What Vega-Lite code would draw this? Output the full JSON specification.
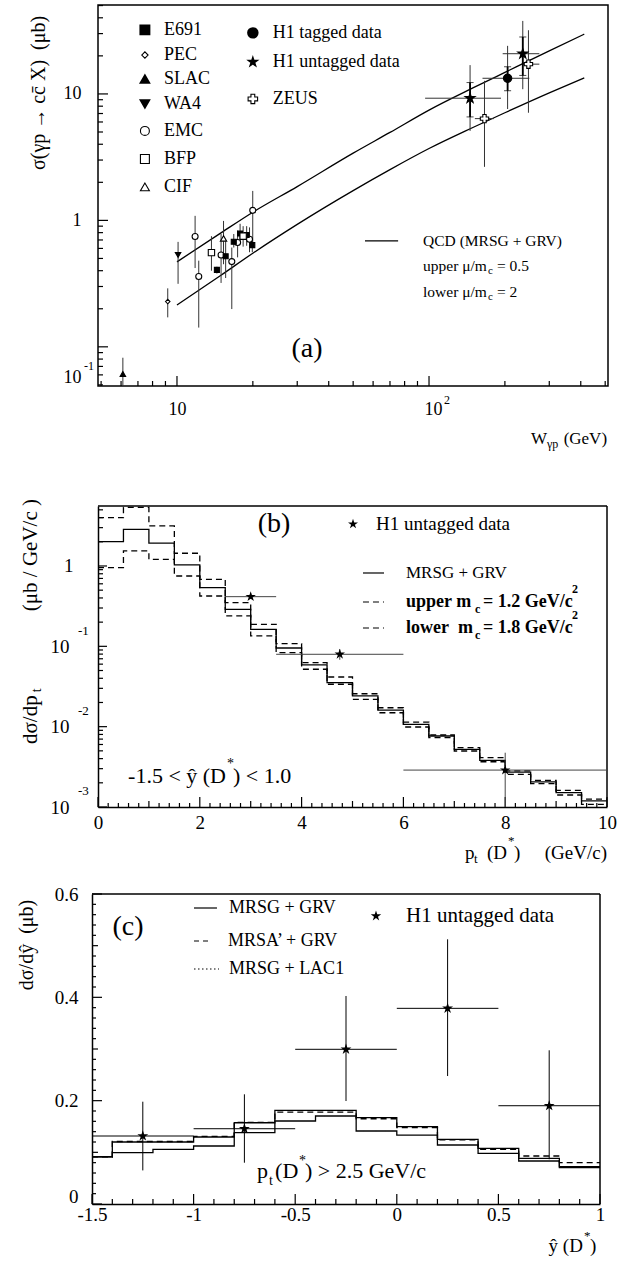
{
"$schema":"https://vega.github.io/schema/vega-lite/v6.json",
"padding":{"left":16,"top":4,"right":4,"bottom":4},
"bounds":"flush",
"spacing":87,
"config":{
 "font":"Liberation Serif",
 "view":{"stroke":"black","strokeWidth":1.5},
 "axis":{"labelFont":"Liberation Serif","labelColor":"black","domainColor":"black","domainWidth":1.5,"grid":false,"labelOverlap":false,"labelFlush":false,"labelBound":false},
 "text":{"font":"Liberation Serif","color":"black"}
},
"datasets":{
 "qcd":[
  {"set":"upper","W":10,"s":0.47},{"set":"upper","W":15,"s":0.80},{"set":"upper","W":20,"s":1.16},{"set":"upper","W":30,"s":1.85},{"set":"upper","W":50,"s":3.4},{"set":"upper","W":70,"s":4.96},{"set":"upper","W":100,"s":7.45},{"set":"upper","W":150,"s":11.2},{"set":"upper","W":200,"s":14.8},{"set":"upper","W":300,"s":21.9},{"set":"upper","W":413,"s":29.7},
  {"set":"lower","W":10,"s":0.214},{"set":"lower","W":15,"s":0.37},{"set":"lower","W":20,"s":0.55},{"set":"lower","W":30,"s":0.93},{"set":"lower","W":50,"s":1.72},{"set":"lower","W":70,"s":2.52},{"set":"lower","W":100,"s":3.7},{"set":"lower","W":150,"s":5.45},{"set":"lower","W":200,"s":7.1},{"set":"lower","W":300,"s":10.2},{"set":"lower","W":413,"s":13.4}
 ],
 "a_pts":[
  {"exp":"SLAC","W":6.1,"s":0.061,"lo":0.049,"hi":0.082},
  {"exp":"PEC","W":9.19,"s":0.228,"lo":0.171,"hi":0.29},
  {"exp":"WA4","W":10.1,"s":0.533,"lo":0.315,"hi":0.676},
  {"exp":"EMC","W":11.8,"s":0.745,"lo":0.42,"hi":1.086},
  {"exp":"EMC","W":12.2,"s":0.36,"lo":0.142,"hi":0.48},
  {"exp":"EMC","W":14.96,"s":0.533,"lo":0.32,"hi":0.78},
  {"exp":"EMC","W":16.5,"s":0.472,"lo":0.199,"hi":0.61},
  {"exp":"EMC","W":17.4,"s":0.668,"lo":0.51,"hi":0.83},
  {"exp":"EMC","W":19.4,"s":0.71,"lo":0.56,"hi":0.88},
  {"exp":"EMC","W":19.98,"s":1.2,"lo":0.61,"hi":1.71},
  {"exp":"E691","W":14.4,"s":0.406,"lo":0.38,"hi":0.43},
  {"exp":"E691","W":15.6,"s":0.52,"lo":0.35,"hi":0.69},
  {"exp":"E691","W":16.8,"s":0.678,"lo":0.61,"hi":0.78},
  {"exp":"E691","W":17.8,"s":0.787,"lo":0.65,"hi":0.94},
  {"exp":"E691","W":18.9,"s":0.766,"lo":0.63,"hi":0.9},
  {"exp":"E691","W":19.9,"s":0.637,"lo":0.56,"hi":0.73},
  {"exp":"BFP","W":13.7,"s":0.556,"lo":0.4,"hi":0.75},
  {"exp":"BFP","W":18.3,"s":0.75,"lo":0.62,"hi":0.9},
  {"exp":"CIF","W":15.3,"s":0.72,"lo":0.45,"hi":0.99},
  {"exp":"H1 untagged","W":145.5,"s":9.25,"lo":5.1,"hi":16.9,"slo":6.58,"shi":12.3,"Wlo":96.5,"Whi":193},
  {"exp":"H1 untagged","W":235.5,"s":20.8,"lo":10.9,"hi":37.8,"slo":14.0,"shi":28.2,"Wlo":196,"Whi":274},
  {"exp":"H1 tagged","W":205,"s":13.3,"lo":7.6,"hi":24,"slo":10.6,"shi":16.4,"Wlo":163,"Whi":250},
  {"exp":"ZEUS","W":166,"s":6.38,"lo":2.65,"hi":12.7,"Wlo":152,"Whi":181},
  {"exp":"ZEUS","W":248,"s":17.2,"lo":7.1,"hi":31.9,"Wlo":233,"Whi":274}
 ],
 "a_xt":[{"v":5},{"v":6},{"v":7},{"v":8},{"v":9},{"v":10},{"v":20},{"v":30},{"v":40},{"v":50},{"v":60},{"v":70},{"v":80},{"v":90},{"v":100},{"v":200},{"v":300},{"v":400},{"v":500}],
 "a_yt":[{"v":0.05},{"v":0.06},{"v":0.07},{"v":0.08},{"v":0.09},{"v":0.1},{"v":0.2},{"v":0.3},{"v":0.4},{"v":0.5},{"v":0.6},{"v":0.7},{"v":0.8},{"v":0.9},{"v":1},{"v":2},{"v":3},{"v":4},{"v":5},{"v":6},{"v":7},{"v":8},{"v":9},{"v":10},{"v":20},{"v":30},{"v":40},{"v":50}],
 "b_xt":[{"v":0},{"v":0.2},{"v":0.4},{"v":0.6},{"v":0.8},{"v":1},{"v":1.2},{"v":1.4},{"v":1.6},{"v":1.8},{"v":2},{"v":2.2},{"v":2.4},{"v":2.6},{"v":2.8},{"v":3},{"v":3.2},{"v":3.4},{"v":3.6},{"v":3.8},{"v":4},{"v":4.2},{"v":4.4},{"v":4.6},{"v":4.8},{"v":5},{"v":5.2},{"v":5.4},{"v":5.6},{"v":5.8},{"v":6},{"v":6.2},{"v":6.4},{"v":6.6},{"v":6.8},{"v":7},{"v":7.2},{"v":7.4},{"v":7.6},{"v":7.8},{"v":8},{"v":8.2},{"v":8.4},{"v":8.6},{"v":8.8},{"v":9},{"v":9.2},{"v":9.4},{"v":9.6},{"v":9.8},{"v":10}],
 "b_yt":[{"v":0.001},{"v":0.002},{"v":0.003},{"v":0.004},{"v":0.005},{"v":0.006},{"v":0.007},{"v":0.008},{"v":0.009},{"v":0.01},{"v":0.02},{"v":0.03},{"v":0.04},{"v":0.05},{"v":0.06},{"v":0.07},{"v":0.08},{"v":0.09},{"v":0.1},{"v":0.2},{"v":0.3},{"v":0.4},{"v":0.5},{"v":0.6},{"v":0.7},{"v":0.8},{"v":0.9},{"v":1},{"v":2},{"v":3},{"v":4},{"v":5}],
 "c_xt":[{"v":-1.5},{"v":-1.4},{"v":-1.3},{"v":-1.2},{"v":-1.1},{"v":-1},{"v":-0.9},{"v":-0.8},{"v":-0.7},{"v":-0.6},{"v":-0.5},{"v":-0.4},{"v":-0.3},{"v":-0.2},{"v":-0.1},{"v":0},{"v":0.1},{"v":0.2},{"v":0.3},{"v":0.4},{"v":0.5},{"v":0.6},{"v":0.7},{"v":0.8},{"v":0.9},{"v":1}],
 "c_yt":[{"v":0},{"v":0.02},{"v":0.04},{"v":0.06},{"v":0.08},{"v":0.1},{"v":0.12},{"v":0.14},{"v":0.16},{"v":0.18},{"v":0.2},{"v":0.22},{"v":0.24},{"v":0.26},{"v":0.28},{"v":0.3},{"v":0.32},{"v":0.34},{"v":0.36},{"v":0.38},{"v":0.4},{"v":0.42},{"v":0.44},{"v":0.46},{"v":0.48},{"v":0.5},{"v":0.52},{"v":0.54},{"v":0.56},{"v":0.58},{"v":0.6}],
 "b_hist":[
  {"pt":0,"solid":2.01,"upper":3.99,"lower":0.953},
  {"pt":0.5,"solid":2.86,"upper":5.35,"lower":1.54},
  {"pt":1,"solid":1.92,"upper":3.15,"lower":1.21},
  {"pt":1.5,"solid":1.03,"upper":1.44,"lower":0.751},
  {"pt":2,"solid":0.537,"upper":0.683,"lower":0.423},
  {"pt":2.5,"solid":0.289,"upper":0.349,"lower":0.239},
  {"pt":3,"solid":0.163,"upper":0.188,"lower":0.135},
  {"pt":3.5,"solid":0.0953,"upper":0.108,"lower":0.0833},
  {"pt":4,"solid":0.0586,"upper":0.0626,"lower":0.0518},
  {"pt":4.5,"solid":0.0353,"upper":0.0415,"lower":0.0337},
  {"pt":5,"solid":0.0241,"upper":0.0257,"lower":0.0219},
  {"pt":5.5,"solid":0.0161,"upper":0.0172,"lower":0.0149},
  {"pt":6,"solid":0.0107,"upper":0.0114,"lower":0.0099},
  {"pt":6.5,"solid":0.00765,"upper":0.00787,"lower":0.0073},
  {"pt":7,"solid":0.00522,"upper":0.00547,"lower":0.00498},
  {"pt":7.5,"solid":0.00381,"upper":0.00411,"lower":0.00366},
  {"pt":8,"solid":0.00272,"upper":0.00281,"lower":0.00255},
  {"pt":8.5,"solid":0.00205,"upper":0.00215,"lower":0.00195},
  {"pt":9,"solid":0.00151,"upper":0.00161,"lower":0.00141},
  {"pt":9.5,"solid":0.00119,"upper":0.00125,"lower":0.00108},
  {"pt":10,"solid":0.00119,"upper":0.00125,"lower":0.00108}
 ],
 "b_pts":[
  {"pt":3.0,"v":0.415,"plo":2.5,"phi":3.5,"vlo":0.39,"vhi":0.44},
  {"pt":4.75,"v":0.0796,"plo":3.5,"phi":6.0,"vlo":0.068,"vhi":0.092},
  {"pt":8.0,"v":0.00288,"plo":6.0,"phi":10.0,"vlo":0.001,"vhi":0.00474}
 ],
 "c_hist":[
  {"y":-1.5,"solid":0.0915,"mrsa":0.0915,"lac":0.0915},
  {"y":-1.4,"solid":0.120,"mrsa":0.0993,"lac":0.121},
  {"y":-1.2,"solid":0.120,"mrsa":0.1059,"lac":0.121},
  {"y":-1.0,"solid":0.1297,"mrsa":0.1123,"lac":0.131},
  {"y":-0.8,"solid":0.1573,"mrsa":0.138,"lac":0.158},
  {"y":-0.6,"solid":0.1813,"mrsa":0.1606,"lac":0.178},
  {"y":-0.4,"solid":0.1813,"mrsa":0.1703,"lac":0.178},
  {"y":-0.2,"solid":0.167,"mrsa":0.1413,"lac":0.165},
  {"y":0,"solid":0.1496,"mrsa":0.1335,"lac":0.148},
  {"y":0.2,"solid":0.1252,"mrsa":0.1142,"lac":0.124},
  {"y":0.4,"solid":0.1078,"mrsa":0.0981,"lac":0.106},
  {"y":0.6,"solid":0.0884,"mrsa":0.0832,"lac":0.0929},
  {"y":0.8,"solid":0.0722,"mrsa":0.0703,"lac":0.080},
  {"y":1.0,"solid":0.0722,"mrsa":0.0703,"lac":0.080}
 ],
 "c_pts":[
  {"y":-1.25,"v":0.1316,"lo":0.065,"hi":0.198,"x1":-1.5,"x2":-1.0},
  {"y":-0.75,"v":0.1457,"lo":0.0799,"hi":0.2123,"x1":-1.0,"x2":-0.5},
  {"y":-0.25,"v":0.2994,"lo":0.1993,"hi":0.4026,"x1":-0.5,"x2":0},
  {"y":0.25,"v":0.3787,"lo":0.2477,"hi":0.5123,"x1":0,"x2":0.5},
  {"y":0.75,"v":0.1902,"lo":0.0865,"hi":0.2975,"x1":0.5,"x2":1.0}
 ]
},
"vconcat":[
{
 "width":510,"height":381,
 "layer":[
  {"data":{"name":"qcd"},"mark":{"type":"line","color":"black","strokeWidth":1.3,"interpolate":"monotone"},
   "encoding":{
    "x":{"field":"W","type":"quantitative","scale":{"type":"log","domain":[4.86,513],"nice":false},
      "axis":{"title":null,"domain":false,"orient":"bottom","values":[10,100],"ticks":false,"tickSize":0,
       "labelExpr":"'10'",
       "labelOffset":{"condition":{"test":"datum.value==100","value":4},"value":0},
       "labelPadding":14,"labelFontSize":18,"labelOverlap":false}},
    "y":{"field":"s","type":"quantitative","scale":{"type":"log","domain":[0.049,50.5],"nice":false},
      "axis":{"title":null,"domain":false,"orient":"left","values":[0.1,1,10],"ticks":false,"tickSize":0,
       "labelExpr":"datum.value==1?'1':'10'",
       "labelOffset":{"condition":{"test":"datum.value==0.1","value":31},"value":0},
       "labelPadding":17,"labelFontSize":18,"labelOverlap":false}},
    "detail":{"field":"set"}}},
  {"data":{"name":"a_xt"},"transform":[{"filter":"datum.v==10||datum.v==100"}],"mark":{"type":"rule","color":"black","strokeWidth":1.2},"encoding":{"x":{"field":"v","type":"quantitative"},"y":{"datum":0.049},"y2":{"datum":0.0588}}},
  {"data":{"name":"a_xt"},"transform":[{"filter":"datum.v!=10&&datum.v!=100"}],"mark":{"type":"rule","color":"black","strokeWidth":1.2},"encoding":{"x":{"field":"v","type":"quantitative"},"y":{"datum":0.049},"y2":{"datum":0.0537}}},
  {"data":{"name":"a_yt"},"transform":[{"filter":"datum.v==0.1||datum.v==1||datum.v==10"}],"mark":{"type":"rule","color":"black","strokeWidth":1.2},"encoding":{"y":{"field":"v","type":"quantitative"},"x":{"datum":4.86},"x2":{"datum":5.325}}},
  {"data":{"name":"a_yt"},"transform":[{"filter":"datum.v!=0.1&&datum.v!=1&&datum.v!=10"}],"mark":{"type":"rule","color":"black","strokeWidth":1.2},"encoding":{"y":{"field":"v","type":"quantitative"},"x":{"datum":4.86},"x2":{"datum":5.087}}},
  {"data":{"name":"a_pts"},"mark":{"type":"rule","color":"#333","strokeWidth":1},
   "encoding":{"x":{"field":"W","type":"quantitative"},"y":{"field":"lo","type":"quantitative"},"y2":{"field":"hi"}}},
  {"data":{"name":"a_pts"},"transform":[{"filter":"isValid(datum.Wlo)"}],"mark":{"type":"rule","color":"#333","strokeWidth":1},
   "encoding":{"x":{"field":"Wlo","type":"quantitative"},"x2":{"field":"Whi"},"y":{"field":"s","type":"quantitative"}}},
  {"data":{"name":"a_pts"},"transform":[{"filter":"isValid(datum.slo)"}],"mark":{"type":"rule","color":"black","strokeWidth":1.8},
   "encoding":{"x":{"field":"W","type":"quantitative"},"y":{"field":"slo","type":"quantitative"},"y2":{"field":"shi"}}},
  {"data":{"name":"a_pts"},"transform":[{"filter":"isValid(datum.slo)"},{"fold":["slo","shi"],"as":["k","cap"]}],"mark":{"type":"point","shape":"stroke","color":"black","strokeWidth":1,"size":50},
   "encoding":{"x":{"field":"W","type":"quantitative"},"y":{"field":"cap","type":"quantitative"}}},
  {"data":{"name":"a_pts"},"mark":{"type":"point","filled":true,"stroke":"black","strokeWidth":1.1,"opacity":1},
   "encoding":{"x":{"field":"W","type":"quantitative"},"y":{"field":"s","type":"quantitative"},
    "shape":{"field":"exp","type":"nominal","legend":null,"scale":{"domain":["E691","PEC","SLAC","WA4","EMC","BFP","CIF","H1 tagged","H1 untagged","ZEUS"],"range":["square","diamond","triangle-up","triangle-down","circle","square","triangle-up","circle","M0,-1L0.2245,-0.309L0.9511,-0.309L0.3633,0.118L0.5878,0.809L0,0.382L-0.5878,0.809L-0.3633,0.118L-0.9511,-0.309L-0.2245,-0.309Z","cross"]}},
    "fill":{"field":"exp","type":"nominal","legend":null,"scale":{"domain":["E691","PEC","SLAC","WA4","EMC","BFP","CIF","H1 tagged","H1 untagged","ZEUS"],"range":["black","white","black","black","white","white","white","black","black","white"]}},
    "size":{"field":"exp","type":"nominal","legend":null,"scale":{"type":"ordinal","domain":["E691","PEC","SLAC","WA4","EMC","BFP","CIF","H1 tagged","H1 untagged","ZEUS"],"range":[25,20,30,30,36,40,40,70,110,70]}}}},
  {"data":{"values":[{}]},"mark":{"type":"point","shape":"square","filled":true,"fill":"black","stroke":"black","size":80,"opacity":1},"encoding":{"x":{"datum":7.46},"y":{"datum":32.1}}},
  {"data":{"values":[{}]},"mark":{"type":"point","shape":"diamond","filled":true,"fill":"white","stroke":"black","strokeWidth":1.1,"size":40,"opacity":1},"encoding":{"x":{"datum":7.46},"y":{"datum":20.3}}},
  {"data":{"values":[{}]},"mark":{"type":"point","shape":"triangle-up","filled":true,"fill":"black","stroke":"black","size":70,"opacity":1},"encoding":{"x":{"datum":7.46},"y":{"datum":13.1}}},
  {"data":{"values":[{}]},"mark":{"type":"point","shape":"triangle-down","filled":true,"fill":"black","stroke":"black","size":70,"opacity":1},"encoding":{"x":{"datum":7.46},"y":{"datum":8.34}}},
  {"data":{"values":[{}]},"mark":{"type":"point","shape":"circle","filled":true,"fill":"white","stroke":"black","strokeWidth":1.1,"size":80,"opacity":1},"encoding":{"x":{"datum":7.46},"y":{"datum":5.10}}},
  {"data":{"values":[{}]},"mark":{"type":"point","shape":"square","filled":true,"fill":"white","stroke":"black","strokeWidth":1.1,"size":80,"opacity":1},"encoding":{"x":{"datum":7.46},"y":{"datum":3.06}}},
  {"data":{"values":[{}]},"mark":{"type":"point","shape":"triangle-up","filled":true,"fill":"white","stroke":"black","strokeWidth":1.1,"size":80,"opacity":1},"encoding":{"x":{"datum":7.46},"y":{"datum":1.84}}},
  {"data":{"values":[{}]},"mark":{"type":"point","shape":"circle","filled":true,"fill":"black","stroke":"black","size":90,"opacity":1},"encoding":{"x":{"datum":20.0},"y":{"datum":30.4}}},
  {"data":{"values":[{}]},"mark":{"type":"point","shape":"M0,-1L0.2245,-0.309L0.9511,-0.309L0.3633,0.118L0.5878,0.809L0,0.382L-0.5878,0.809L-0.3633,0.118L-0.9511,-0.309L-0.2245,-0.309Z","filled":true,"fill":"black","stroke":"black","size":55,"opacity":1},"encoding":{"x":{"datum":20.0},"y":{"datum":17.9}}},
  {"data":{"values":[{}]},"mark":{"type":"point","shape":"cross","filled":true,"fill":"white","stroke":"black","strokeWidth":1.1,"size":90,"opacity":1},"encoding":{"x":{"datum":20.0},"y":{"datum":9.13}}},
  {"data":{"values":[{}]},"mark":{"type":"text","text":"E691","align":"left","baseline":"middle","fontSize":18},"encoding":{"x":{"datum":8.88},"y":{"datum":32.1}}},
  {"data":{"values":[{}]},"mark":{"type":"text","text":"PEC","align":"left","baseline":"middle","fontSize":18},"encoding":{"x":{"datum":8.88},"y":{"datum":20.3}}},
  {"data":{"values":[{}]},"mark":{"type":"text","text":"SLAC","align":"left","baseline":"middle","fontSize":18},"encoding":{"x":{"datum":8.88},"y":{"datum":13.1}}},
  {"data":{"values":[{}]},"mark":{"type":"text","text":"WA4","align":"left","baseline":"middle","fontSize":18},"encoding":{"x":{"datum":8.88},"y":{"datum":8.34}}},
  {"data":{"values":[{}]},"mark":{"type":"text","text":"EMC","align":"left","baseline":"middle","fontSize":18},"encoding":{"x":{"datum":8.88},"y":{"datum":5.10}}},
  {"data":{"values":[{}]},"mark":{"type":"text","text":"BFP","align":"left","baseline":"middle","fontSize":18},"encoding":{"x":{"datum":8.88},"y":{"datum":3.06}}},
  {"data":{"values":[{}]},"mark":{"type":"text","text":"CIF","align":"left","baseline":"middle","fontSize":18},"encoding":{"x":{"datum":8.88},"y":{"datum":1.84}}},
  {"data":{"values":[{}]},"mark":{"type":"text","text":"H1 tagged data","align":"left","baseline":"middle","fontSize":18},"encoding":{"x":{"datum":24.0},"y":{"datum":30.4}}},
  {"data":{"values":[{}]},"mark":{"type":"text","text":"H1 untagged data","align":"left","baseline":"middle","fontSize":18},"encoding":{"x":{"datum":24.0},"y":{"datum":17.9}}},
  {"data":{"values":[{}]},"mark":{"type":"text","text":"ZEUS","align":"left","baseline":"middle","fontSize":18},"encoding":{"x":{"datum":24.0},"y":{"datum":9.13}}},
  {"data":{"values":[{}]},"mark":{"type":"rule","color":"black","strokeWidth":1.2},"encoding":{"x":{"datum":55.7},"x2":{"datum":75.4},"y":{"datum":0.689}}},
  {"data":{"values":[{}]},"mark":{"type":"text","text":"QCD (MRSG + GRV)","align":"left","baseline":"middle","fontSize":15.5},"encoding":{"x":{"datum":94.7},"y":{"datum":0.689}}},
  {"data":{"values":[{}]},"mark":{"type":"text","text":"upper μ/m","align":"left","baseline":"middle","fontSize":15.5},"encoding":{"x":{"datum":94.7},"y":{"datum":0.437}}},
  {"data":{"values":[{}]},"mark":{"type":"text","text":"c","align":"left","baseline":"middle","fontSize":11},"encoding":{"x":{"datum":171.4},"y":{"datum":0.399}}},
  {"data":{"values":[{}]},"mark":{"type":"text","text":"= 0.5","align":"left","baseline":"middle","fontSize":15.5},"encoding":{"x":{"datum":186.1},"y":{"datum":0.437}}},
  {"data":{"values":[{}]},"mark":{"type":"text","text":"lower μ/m","align":"left","baseline":"middle","fontSize":15.5},"encoding":{"x":{"datum":94.7},"y":{"datum":0.272}}},
  {"data":{"values":[{}]},"mark":{"type":"text","text":"c","align":"left","baseline":"middle","fontSize":11},"encoding":{"x":{"datum":171.4},"y":{"datum":0.248}}},
  {"data":{"values":[{}]},"mark":{"type":"text","text":"= 2","align":"left","baseline":"middle","fontSize":15.5},"encoding":{"x":{"datum":186.1},"y":{"datum":0.272}}},
  {"data":{"values":[{}]},"mark":{"type":"text","text":"(a)","align":"center","baseline":"middle","fontSize":28},"encoding":{"x":{"datum":32.8},"y":{"datum":0.0964}}},
  {"data":{"values":[{}]},"mark":{"type":"text","text":"2","align":"left","baseline":"middle","fontSize":12},"encoding":{"x":{"datum":114.7},"y":{"datum":0.0381}}},
  {"data":{"values":[{}]},"mark":{"type":"text","text":"-1","align":"left","baseline":"middle","fontSize":12},"encoding":{"x":{"datum":4.28},"y":{"datum":0.0708}}},
  {"data":{"values":[{}]},"mark":{"type":"text","text":"W","align":"left","baseline":"middle","fontSize":17},"encoding":{"x":{"datum":254},"y":{"datum":0.01874}}},
  {"data":{"values":[{}]},"mark":{"type":"text","text":"γp","align":"left","baseline":"middle","fontSize":12},"encoding":{"x":{"datum":294},"y":{"datum":0.0171}}},
  {"data":{"values":[{}]},"mark":{"type":"text","text":"(GeV)","align":"right","baseline":"middle","fontSize":17},"encoding":{"x":{"datum":508.6},"y":{"datum":0.01874}}},
  {"data":{"values":[{}]},"mark":{"type":"text","text":"σ(γp → cc̄ X)\u00a0\u00a0(μb)","align":"center","baseline":"middle","fontSize":20,"angle":270},"encoding":{"x":{"datum":2.835},"y":{"datum":10.18}}}
 ]
},
{
 "width":509,"height":334,
 "view":{"stroke":null},
 "layer":[
  {"data":{"name":"b_hist"},"transform":[{"fold":["solid","upper","lower"],"as":["m","v"]}],
   "mark":{"type":"line","color":"black","strokeWidth":1.3,"interpolate":"step-after"},
   "encoding":{
    "x":{"field":"pt","type":"quantitative","scale":{"domain":[0,10],"nice":false},
      "axis":{"title":null,"orient":"bottom","values":[0,2,4,6,8,10],"ticks":false,"tickSize":0,"labelPadding":6,"labelFontSize":19,"labelOverlap":false}},
    "y":{"field":"v","type":"quantitative","scale":{"type":"log","domain":[0.001,5.58],"range":[334,33],"nice":false},
      "axis":{"title":null,"orient":"left","values":[0.001,0.01,0.1,1],"ticks":false,"tickSize":0,
       "labelExpr":"datum.value==1?'1':'10'",
       "labelPadding":{"condition":{"test":"datum.value==1","value":25},"value":29},
       "labelFontSize":19,"labelOverlap":false}},
    "strokeDash":{"field":"m","type":"nominal","legend":null,"scale":{"domain":["solid","upper","lower"],"range":[[1,0],[6,4],[6,4]]}}}},
  {"data":{"name":"b_xt"},"transform":[{"filter":"datum.v%2==0"}],"mark":{"type":"rule","color":"black","strokeWidth":1.2},"encoding":{"x":{"field":"v","type":"quantitative"},"y":{"datum":0.001},"y2":{"datum":0.001332}}},
  {"data":{"name":"b_xt"},"transform":[{"filter":"datum.v==round(datum.v)&&datum.v%2!=0"}],"mark":{"type":"rule","color":"black","strokeWidth":1.2},"encoding":{"x":{"field":"v","type":"quantitative"},"y":{"datum":0.001},"y2":{"datum":0.001188}}},
  {"data":{"name":"b_xt"},"transform":[{"filter":"datum.v!=round(datum.v)"}],"mark":{"type":"rule","color":"black","strokeWidth":1.2},"encoding":{"x":{"field":"v","type":"quantitative"},"y":{"datum":0.001},"y2":{"datum":0.0011215}}},
  {"data":{"name":"b_yt"},"transform":[{"filter":"datum.v==0.001||datum.v==0.01||datum.v==0.1||datum.v==1"}],"mark":{"type":"rule","color":"black","strokeWidth":1.2},"encoding":{"y":{"field":"v","type":"quantitative"},"x":{"datum":0},"x2":{"datum":0.1768}}},
  {"data":{"name":"b_yt"},"transform":[{"filter":"datum.v!=0.001&&datum.v!=0.01&&datum.v!=0.1&&datum.v!=1"}],"mark":{"type":"rule","color":"black","strokeWidth":1.2},"encoding":{"y":{"field":"v","type":"quantitative"},"x":{"datum":0},"x2":{"datum":0.0982}}},
  {"data":{"values":[{}]},"mark":{"type":"rule","color":"black","strokeWidth":1.5},"encoding":{"x":{"datum":0},"x2":{"datum":10},"y":{"datum":5.58}}},
  {"data":{"values":[{}]},"mark":{"type":"rule","color":"black","strokeWidth":1.5},"encoding":{"x":{"datum":10},"y":{"datum":0.001},"y2":{"datum":5.58}}},
  {"data":{"name":"b_pts"},"mark":{"type":"rule","color":"#444","strokeWidth":1},"encoding":{"x":{"field":"plo","type":"quantitative"},"x2":{"field":"phi"},"y":{"field":"v","type":"quantitative"}}},
  {"data":{"name":"b_pts"},"mark":{"type":"rule","color":"#444","strokeWidth":1},"encoding":{"x":{"field":"pt","type":"quantitative"},"y":{"field":"vlo","type":"quantitative"},"y2":{"field":"vhi"}}},
  {"data":{"name":"b_pts"},"mark":{"type":"point","shape":"M0,-1L0.2245,-0.309L0.9511,-0.309L0.3633,0.118L0.5878,0.809L0,0.382L-0.5878,0.809L-0.3633,0.118L-0.9511,-0.309L-0.2245,-0.309Z","filled":true,"color":"black","size":120,"opacity":1},"encoding":{"x":{"field":"pt","type":"quantitative"},"y":{"field":"v","type":"quantitative"}}},
  {"data":{"values":[{}]},"mark":{"type":"text","text":"(b)","align":"center","baseline":"middle","fontSize":28},"encoding":{"x":{"datum":3.458},"y":{"datum":3.33}}},
  {"data":{"values":[{}]},"mark":{"type":"point","shape":"M0,-1L0.2245,-0.309L0.9511,-0.309L0.3633,0.118L0.5878,0.809L0,0.382L-0.5878,0.809L-0.3633,0.118L-0.9511,-0.309L-0.2245,-0.309Z","filled":true,"color":"black","size":110,"opacity":1},"encoding":{"x":{"datum":5.01},"y":{"datum":3.33}}},
  {"data":{"values":[{}]},"mark":{"type":"text","text":"H1 untagged data","align":"left","baseline":"middle","fontSize":19},"encoding":{"x":{"datum":5.462},"y":{"datum":3.33}}},
  {"data":{"values":[{}]},"mark":{"type":"rule","color":"black","strokeWidth":1.2},"encoding":{"x":{"datum":5.206},"x2":{"datum":5.619},"y":{"datum":0.818}}},
  {"data":{"values":[{}]},"mark":{"type":"rule","color":"black","strokeWidth":1.2,"strokeDash":[6,4]},"encoding":{"x":{"datum":5.206},"x2":{"datum":5.619},"y":{"datum":0.356}}},
  {"data":{"values":[{}]},"mark":{"type":"rule","color":"black","strokeWidth":1.2,"strokeDash":[6,4]},"encoding":{"x":{"datum":5.206},"x2":{"datum":5.619},"y":{"datum":0.169}}},
  {"data":{"values":[{}]},"mark":{"type":"text","text":"MRSG + GRV","align":"left","baseline":"middle","fontSize":17},"encoding":{"x":{"datum":6.051},"y":{"datum":0.818}}},
  {"data":{"values":[{}]},"mark":{"type":"text","text":"upper m","align":"left","baseline":"middle","fontSize":18,"fontWeight":"bold"},"encoding":{"x":{"datum":6.051},"y":{"datum":0.356}}},
  {"data":{"values":[{}]},"mark":{"type":"text","text":"c","align":"left","baseline":"middle","fontSize":12,"fontWeight":"bold"},"encoding":{"x":{"datum":7.407},"y":{"datum":0.2914}}},
  {"data":{"values":[{}]},"mark":{"type":"text","text":"= 1.2 GeV/c","align":"left","baseline":"middle","fontSize":18,"fontWeight":"bold"},"encoding":{"x":{"datum":7.564},"y":{"datum":0.356}}},
  {"data":{"values":[{}]},"mark":{"type":"text","text":"2","align":"left","baseline":"middle","fontSize":12,"fontWeight":"bold"},"encoding":{"x":{"datum":9.312},"y":{"datum":0.517}}},
  {"data":{"values":[{}]},"mark":{"type":"text","text":"lower\u00a0 m","align":"left","baseline":"middle","fontSize":18,"fontWeight":"bold"},"encoding":{"x":{"datum":6.051},"y":{"datum":0.169}}},
  {"data":{"values":[{}]},"mark":{"type":"text","text":"c","align":"left","baseline":"middle","fontSize":12,"fontWeight":"bold"},"encoding":{"x":{"datum":7.407},"y":{"datum":0.1384}}},
  {"data":{"values":[{}]},"mark":{"type":"text","text":"= 1.8 GeV/c","align":"left","baseline":"middle","fontSize":18,"fontWeight":"bold"},"encoding":{"x":{"datum":7.564},"y":{"datum":0.169}}},
  {"data":{"values":[{}]},"mark":{"type":"text","text":"2","align":"left","baseline":"middle","fontSize":12,"fontWeight":"bold"},"encoding":{"x":{"datum":9.312},"y":{"datum":0.2454}}},
  {"data":{"values":[{}]},"mark":{"type":"text","text":"-1.5 < ŷ (D","align":"right","baseline":"middle","fontSize":22},"encoding":{"x":{"datum":2.515},"y":{"datum":0.00243}}},
  {"data":{"values":[{}]},"mark":{"type":"text","text":"*","align":"left","baseline":"middle","fontSize":14},"encoding":{"x":{"datum":2.534},"y":{"datum":0.00343}}},
  {"data":{"values":[{}]},"mark":{"type":"text","text":") < 1.0","align":"left","baseline":"middle","fontSize":22},"encoding":{"x":{"datum":2.652},"y":{"datum":0.00243}}},
  {"data":{"values":[{}]},"mark":{"type":"text","text":"p","align":"left","baseline":"middle","fontSize":19},"encoding":{"x":{"datum":7.21},"y":{"datum":0.0002676}}},
  {"data":{"values":[{}]},"mark":{"type":"text","text":"t","align":"left","baseline":"middle","fontSize":13},"encoding":{"x":{"datum":7.387},"y":{"datum":0.000225}}},
  {"data":{"values":[{}]},"mark":{"type":"text","text":"(D","align":"right","baseline":"middle","fontSize":19},"encoding":{"x":{"datum":8.035},"y":{"datum":0.0002676}}},
  {"data":{"values":[{}]},"mark":{"type":"text","text":"*","align":"left","baseline":"middle","fontSize":13},"encoding":{"x":{"datum":8.055},"y":{"datum":0.000378}}},
  {"data":{"values":[{}]},"mark":{"type":"text","text":")","align":"left","baseline":"middle","fontSize":19},"encoding":{"x":{"datum":8.173},"y":{"datum":0.0002676}}},
  {"data":{"values":[{}]},"mark":{"type":"text","text":"(GeV/c)","align":"right","baseline":"middle","fontSize":19},"encoding":{"x":{"datum":10.0},"y":{"datum":0.0002676}}},
  {"data":{"values":[{}]},"mark":{"type":"text","text":"-1","align":"left","baseline":"middle","fontSize":13},"encoding":{"x":{"datum":-0.393},"y":{"datum":0.155}}},
  {"data":{"values":[{}]},"mark":{"type":"text","text":"-2","align":"left","baseline":"middle","fontSize":13},"encoding":{"x":{"datum":-0.393},"y":{"datum":0.01566}}},
  {"data":{"values":[{}]},"mark":{"type":"text","text":"-3","align":"left","baseline":"middle","fontSize":13},"encoding":{"x":{"datum":-0.393},"y":{"datum":0.00158}}},
  {"data":{"values":[{}]},"mark":{"type":"text","text":"dσ/dp","align":"left","baseline":"middle","fontSize":21,"angle":270},"encoding":{"x":{"datum":-1.316},"y":{"datum":0.00608}}},
  {"data":{"values":[{}]},"mark":{"type":"text","text":"t","align":"left","baseline":"middle","fontSize":14,"angle":270},"encoding":{"x":{"datum":-1.2},"y":{"datum":0.0268}}},
  {"data":{"values":[{}]},"mark":{"type":"text","text":"(μb / GeV/c )","align":"right","baseline":"middle","fontSize":21,"angle":270},"encoding":{"x":{"datum":-1.316},"y":{"datum":6.82}}}
 ]
},
{
 "width":502,"height":310,
 "view":{"stroke":null},
 "layer":[
  {"data":{"name":"c_hist"},"transform":[{"fold":["solid","mrsa","lac"],"as":["m","v"]}],
   "mark":{"type":"line","color":"black","strokeWidth":1.3,"interpolate":"step-after"},
   "encoding":{
    "x":{"field":"y","type":"quantitative","scale":{"domain":[-1.5,1],"range":[-6,502],"nice":false},
      "axis":{"title":null,"orient":"bottom","values":[-1.5,-1,-0.5,0,0.5,1],"ticks":false,"tickSize":0,"labelExpr":"''+datum.value","labelPadding":1,"labelFontSize":19,"labelOverlap":false}},
    "y":{"field":"v","type":"quantitative","scale":{"domain":[0,0.6],"nice":false,"zero":false},
      "axis":{"title":null,"orient":"left","offset":6,"values":[0,0.2,0.4,0.6],"ticks":false,"tickSize":0,"labelExpr":"''+datum.value","labelPadding":14,
       "labelOffset":{"condition":{"test":"datum.value==0","value":-8},"value":0},
       "labelFontSize":19,"labelOverlap":false}},
    "strokeDash":{"field":"m","type":"nominal","legend":null,"scale":{"domain":["solid","mrsa","lac"],"range":[[1,0],[6,4],[1.5,2.5]]}}}},
  {"data":{"name":"c_xt"},"transform":[{"filter":"abs(datum.v*2-round(datum.v*2))<0.001"}],"mark":{"type":"rule","color":"black","strokeWidth":1.2},"encoding":{"x":{"field":"v","type":"quantitative"},"y":{"datum":0},"y2":{"datum":0.01935}}},
  {"data":{"name":"c_xt"},"transform":[{"filter":"abs(datum.v*2-round(datum.v*2))>=0.001"}],"mark":{"type":"rule","color":"black","strokeWidth":1.2},"encoding":{"x":{"field":"v","type":"quantitative"},"y":{"datum":0},"y2":{"datum":0.00968}}},
  {"data":{"name":"c_yt"},"transform":[{"filter":"abs(datum.v*5-round(datum.v*5))<0.001"}],"mark":{"type":"rule","color":"black","strokeWidth":1.2},"encoding":{"y":{"field":"v","type":"quantitative"},"x":{"datum":-1.5},"x2":{"datum":-1.4508}}},
  {"data":{"name":"c_yt"},"transform":[{"filter":"abs(datum.v*10-round(datum.v*10))<0.001&&abs(datum.v*5-round(datum.v*5))>=0.001"}],"mark":{"type":"rule","color":"black","strokeWidth":1.2},"encoding":{"y":{"field":"v","type":"quantitative"},"x":{"datum":-1.5},"x2":{"datum":-1.4705}}},
  {"data":{"name":"c_yt"},"transform":[{"filter":"abs(datum.v*10-round(datum.v*10))>=0.001"}],"mark":{"type":"rule","color":"black","strokeWidth":1.2},"encoding":{"y":{"field":"v","type":"quantitative"},"x":{"datum":-1.5},"x2":{"datum":-1.4803}}},
  {"data":{"values":[{}]},"mark":{"type":"rule","color":"black","strokeWidth":1.5},"encoding":{"x":{"datum":-1.5},"x2":{"datum":1},"y":{"datum":0.6}}},
  {"data":{"values":[{}]},"mark":{"type":"rule","color":"black","strokeWidth":1.5},"encoding":{"x":{"datum":1},"y":{"datum":0},"y2":{"datum":0.6}}},
  {"data":{"name":"c_pts"},"mark":{"type":"rule","color":"black","strokeWidth":1},"encoding":{"x":{"field":"x1","type":"quantitative"},"x2":{"field":"x2"},"y":{"field":"v","type":"quantitative"}}},
  {"data":{"name":"c_pts"},"mark":{"type":"rule","color":"black","strokeWidth":1},"encoding":{"x":{"field":"y","type":"quantitative"},"y":{"field":"lo","type":"quantitative"},"y2":{"field":"hi"}}},
  {"data":{"name":"c_pts"},"mark":{"type":"point","shape":"M0,-1L0.2245,-0.309L0.9511,-0.309L0.3633,0.118L0.5878,0.809L0,0.382L-0.5878,0.809L-0.3633,0.118L-0.9511,-0.309L-0.2245,-0.309Z","filled":true,"color":"black","size":130,"opacity":1},"encoding":{"x":{"field":"y","type":"quantitative"},"y":{"field":"v","type":"quantitative"}}},
  {"data":{"values":[{}]},"mark":{"type":"text","text":"(c)","align":"center","baseline":"middle","fontSize":28},"encoding":{"x":{"datum":-1.323},"y":{"datum":0.536}}},
  {"data":{"values":[{}]},"mark":{"type":"rule","color":"black","strokeWidth":1.2},"encoding":{"x":{"datum":-0.998},"x2":{"datum":-0.885},"y":{"datum":0.5729}}},
  {"data":{"values":[{}]},"mark":{"type":"rule","color":"black","strokeWidth":1.2,"strokeDash":[5,4]},"encoding":{"x":{"datum":-0.998},"x2":{"datum":-0.914},"y":{"datum":0.509}}},
  {"data":{"values":[{}]},"mark":{"type":"rule","color":"black","strokeWidth":1.2,"strokeDash":[1.5,2.5]},"encoding":{"x":{"datum":-0.998},"x2":{"datum":-0.875},"y":{"datum":0.4548}}},
  {"data":{"values":[{}]},"mark":{"type":"text","text":"MRSG + GRV","align":"left","baseline":"middle","fontSize":18},"encoding":{"x":{"datum":-0.826},"y":{"datum":0.5729}}},
  {"data":{"values":[{}]},"mark":{"type":"text","text":"MRSA’ + GRV","align":"left","baseline":"middle","fontSize":18},"encoding":{"x":{"datum":-0.831},"y":{"datum":0.509}}},
  {"data":{"values":[{}]},"mark":{"type":"text","text":"MRSG + LAC1","align":"left","baseline":"middle","fontSize":18},"encoding":{"x":{"datum":-0.826},"y":{"datum":0.4548}}},
  {"data":{"values":[{}]},"mark":{"type":"point","shape":"M0,-1L0.2245,-0.309L0.9511,-0.309L0.3633,0.118L0.5878,0.809L0,0.382L-0.5878,0.809L-0.3633,0.118L-0.9511,-0.309L-0.2245,-0.309Z","filled":true,"color":"black","size":120,"opacity":1},"encoding":{"x":{"datum":-0.1024},"y":{"datum":0.5574}}},
  {"data":{"values":[{}]},"mark":{"type":"text","text":"H1 untagged data","align":"left","baseline":"middle","fontSize":21},"encoding":{"x":{"datum":0.0453},"y":{"datum":0.5574}}},
  {"data":{"values":[{}]},"mark":{"type":"text","text":"p","align":"right","baseline":"middle","fontSize":22},"encoding":{"x":{"datum":-0.634},"y":{"datum":0.0639}}},
  {"data":{"values":[{}]},"mark":{"type":"text","text":"t","align":"left","baseline":"middle","fontSize":14},"encoding":{"x":{"datum":-0.629},"y":{"datum":0.0445}}},
  {"data":{"values":[{}]},"mark":{"type":"text","text":"(D","align":"left","baseline":"middle","fontSize":22},"encoding":{"x":{"datum":-0.599},"y":{"datum":0.0639}}},
  {"data":{"values":[{}]},"mark":{"type":"text","text":"*","align":"left","baseline":"middle","fontSize":14},"encoding":{"x":{"datum":-0.481},"y":{"datum":0.0832}}},
  {"data":{"values":[{}]},"mark":{"type":"text","text":") > 2.5 GeV/c","align":"left","baseline":"middle","fontSize":22},"encoding":{"x":{"datum":-0.452},"y":{"datum":0.0639}}},
  {"data":{"values":[{}]},"mark":{"type":"text","text":"ŷ (D","align":"right","baseline":"middle","fontSize":19},"encoding":{"x":{"datum":0.916},"y":{"datum":-0.0813}}},
  {"data":{"values":[{}]},"mark":{"type":"text","text":"*","align":"left","baseline":"middle","fontSize":13},"encoding":{"x":{"datum":0.921},"y":{"datum":-0.0619}}},
  {"data":{"values":[{}]},"mark":{"type":"text","text":")","align":"left","baseline":"middle","fontSize":19},"encoding":{"x":{"datum":0.951},"y":{"datum":-0.0813}}},
  {"data":{"values":[{}]},"mark":{"type":"text","text":"dσ/dŷ\u00a0\u00a0(μb)","align":"center","baseline":"middle","fontSize":20,"angle":270},"encoding":{"x":{"datum":-1.82},"y":{"datum":0.5013}}}
 ]
}
]
}
